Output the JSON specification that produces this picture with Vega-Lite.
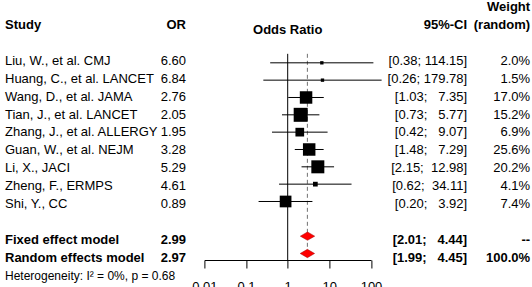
{
  "$schema": "https://vega.github.io/schema/vega-lite/v6.json",
  "padding": {"left": 5, "top": 0, "right": 0, "bottom": 0},
  "background": "white",
  "spacing": 17.7,
  "bounds": "flush",
  "config": {
    "view": {"stroke": null},
    "font": "Liberation Sans",
    "text": {"font": "Liberation Sans", "fontSize": 13, "color": "black"}
  },
  "datasets": {
    "studies": [
      {"key": "Liu", "study": "Liu, W., et al. CMJ", "or": 6.60, "lo": 0.38, "hi": 114.15, "ci": "[0.38; 114.15]", "wr": "2.0%", "wmh": 1.2},
      {"key": "Huang", "study": "Huang, C., et al. LANCET", "or": 6.84, "lo": 0.26, "hi": 179.78, "ci": "[0.26; 179.78]", "wr": "1.5%", "wmh": 1.2},
      {"key": "Wang", "study": "Wang, D., et al. JAMA", "or": 2.76, "lo": 1.03, "hi": 7.35, "ci": "[1.03;\u00a0\u00a0\u00a07.35]", "wr": "17.0%", "wmh": 16.7},
      {"key": "Tian", "study": "Tian, J., et al. LANCET", "or": 2.05, "lo": 0.73, "hi": 5.77, "ci": "[0.73;\u00a0\u00a0\u00a05.77]", "wr": "15.2%", "wmh": 21.0},
      {"key": "Zhang", "study": "Zhang, J., et al. ALLERGY", "or": 1.95, "lo": 0.42, "hi": 9.07, "ci": "[0.42;\u00a0\u00a0\u00a09.07]", "wr": "6.9%", "wmh": 8.1},
      {"key": "Guan", "study": "Guan, W., et al. NEJM", "or": 3.28, "lo": 1.48, "hi": 7.29, "ci": "[1.48;\u00a0\u00a0\u00a07.29]", "wr": "25.6%", "wmh": 16.7},
      {"key": "Li", "study": "Li, X., JACI", "or": 5.29, "lo": 2.15, "hi": 12.98, "ci": "[2.15;\u00a0\u00a012.98]", "wr": "20.2%", "wmh": 18.1},
      {"key": "Zheng", "study": "Zheng, F., ERMPS", "or": 4.61, "lo": 0.62, "hi": 34.11, "ci": "[0.62;\u00a0\u00a034.11]", "wr": "4.1%", "wmh": 2.4},
      {"key": "Shi", "study": "Shi, Y., CC", "or": 0.89, "lo": 0.20, "hi": 3.92, "ci": "[0.20;\u00a0\u00a0\u00a03.92]", "wr": "7.4%", "wmh": 14.7}
    ],
    "pooled": [
      {"key": "Fixed", "label": "Fixed effect model", "est": 2.99, "lo": 2.01, "hi": 4.44, "ci": "[2.01;\u00a0\u00a0\u00a04.44]", "wr": "--"},
      {"key": "Random", "label": "Random effects model", "est": 2.97, "lo": 1.99, "hi": 4.45, "ci": "[1.99;\u00a0\u00a0\u00a04.45]", "wr": "100.0%"}
    ],
    "nullLine": [{"or": 1, "from": "Liu", "to": "Random"}],
    "randomLine": [{"or": 2.97, "from": "Liu", "to": "Random"}]
  },
  "hconcat": [
    {
      "width": 100, "height": 287,
      "layer": [
        {"data": {"values": [{"key": "header"}]}, "mark": {"type": "text", "text": "Study", "fontWeight": "bold", "align": "left", "dy": 1.5},
         "encoding": {"x": {"value": 0}, "y": {"field": "key", "type": "nominal", "axis": null, "scale": {"type": "point", "domain": ["header","b1","Liu","Huang","Wang","Tian","Zhang","Guan","Li","Zheng","Shi","b2","Fixed","Random","Het"], "padding": 1.501, "align": 0.65}}}},
        {"data": {"name": "studies"}, "mark": {"type": "text", "align": "left", "dy": 1.5},
         "encoding": {"x": {"value": 0}, "y": {"field": "key", "type": "nominal", "axis": null, "scale": {"type": "point", "domain": ["header","b1","Liu","Huang","Wang","Tian","Zhang","Guan","Li","Zheng","Shi","b2","Fixed","Random","Het"], "padding": 1.501, "align": 0.65}}, "text": {"field": "study"}}},
        {"data": {"name": "pooled"}, "mark": {"type": "text", "align": "left", "fontWeight": "bold", "dy": 1.5},
         "encoding": {"x": {"value": 0}, "y": {"field": "key", "type": "nominal", "axis": null, "scale": {"type": "point", "domain": ["header","b1","Liu","Huang","Wang","Tian","Zhang","Guan","Li","Zheng","Shi","b2","Fixed","Random","Het"], "padding": 1.501, "align": 0.65}}, "text": {"field": "label"}}},
        {"data": {"values": [{"key": "Het"}]}, "mark": {"type": "text", "align": "left", "fontSize": 12, "text": "Heterogeneity: I² = 0%, p = 0.68", "dy": 1.5},
         "encoding": {"x": {"value": 0}, "y": {"field": "key", "type": "nominal", "axis": null, "scale": {"type": "point", "domain": ["header","b1","Liu","Huang","Wang","Tian","Zhang","Guan","Li","Zheng","Shi","b2","Fixed","Random","Het"], "padding": 1.501, "align": 0.65}}}}
      ]
    },
    {
      "width": 63.3, "height": 287,
      "layer": [
        {"data": {"values": [{"key": "header"}]}, "mark": {"type": "text", "text": "OR", "fontWeight": "bold", "align": "right", "dy": 1.5},
         "encoding": {"x": {"value": "width"}, "y": {"field": "key", "type": "nominal", "axis": null, "scale": {"type": "point", "domain": ["header","b1","Liu","Huang","Wang","Tian","Zhang","Guan","Li","Zheng","Shi","b2","Fixed","Random","Het"], "padding": 1.501, "align": 0.65}}}},
        {"data": {"name": "studies"}, "mark": {"type": "text", "align": "right", "dy": 1.5},
         "encoding": {"x": {"value": "width"}, "y": {"field": "key", "type": "nominal", "axis": null, "scale": {"type": "point", "domain": ["header","b1","Liu","Huang","Wang","Tian","Zhang","Guan","Li","Zheng","Shi","b2","Fixed","Random","Het"], "padding": 1.501, "align": 0.65}}, "text": {"field": "or", "type": "quantitative", "format": ".2f"}}},
        {"data": {"name": "pooled"}, "mark": {"type": "text", "align": "right", "fontWeight": "bold", "dy": 1.5},
         "encoding": {"x": {"value": "width"}, "y": {"field": "key", "type": "nominal", "axis": null, "scale": {"type": "point", "domain": ["header","b1","Liu","Huang","Wang","Tian","Zhang","Guan","Li","Zheng","Shi","b2","Fixed","Random","Het"], "padding": 1.501, "align": 0.65}}, "text": {"field": "est", "type": "quantitative", "format": ".2f"}}}
      ]
    },
    {
      "width": 166.6, "height": 260,
      "layer": [
        {"data": {"name": "nullLine"}, "mark": {"type": "rule", "color": "black", "strokeWidth": 1, "yOffset": -9, "y2Offset": 7.5},
         "encoding": {"x": {"field": "or", "type": "quantitative", "scale": {"type": "log", "domain": [0.01, 100], "nice": false, "zero": false}, "axis": {"values": [0.01, 0.1, 1, 10, 100], "format": "~g", "title": null, "grid": false, "domainColor": "black", "tickColor": "black", "labelColor": "black", "labelFont": "Liberation Sans", "labelFontSize": 13, "tickSize": 8, "labelPadding": 12, "labelFlush": false, "labelOverlap": false}},
                      "y": {"field": "from", "type": "nominal", "axis": null, "scale": {"type": "point", "domain": ["header","b1","Liu","Huang","Wang","Tian","Zhang","Guan","Li","Zheng","Shi","b2","Fixed","Random"], "padding": 1.2014, "align": 0.8121}},
                      "y2": {"field": "to"}}},
        {"data": {"name": "randomLine"}, "mark": {"type": "rule", "color": "#707070", "strokeWidth": 1, "strokeDash": [4, 3], "yOffset": -9},
         "encoding": {"x": {"field": "or", "type": "quantitative", "scale": {"type": "log", "domain": [0.01, 100], "nice": false, "zero": false}, "axis": {"values": [0.01, 0.1, 1, 10, 100], "format": "~g", "title": null, "grid": false, "domainColor": "black", "tickColor": "black", "labelColor": "black", "labelFont": "Liberation Sans", "labelFontSize": 13, "tickSize": 8, "labelPadding": 12, "labelFlush": false, "labelOverlap": false}},
                      "y": {"field": "from", "type": "nominal", "axis": null, "scale": {"type": "point", "domain": ["header","b1","Liu","Huang","Wang","Tian","Zhang","Guan","Li","Zheng","Shi","b2","Fixed","Random"], "padding": 1.2014, "align": 0.8121}},
                      "y2": {"field": "to"}}},
        {"data": {"name": "studies"}, "mark": {"type": "rule", "color": "black", "strokeWidth": 1},
         "encoding": {"x": {"field": "lo", "type": "quantitative", "scale": {"type": "log", "domain": [0.01, 100], "nice": false, "zero": false}, "axis": {"values": [0.01, 0.1, 1, 10, 100], "format": "~g", "title": null, "grid": false, "domainColor": "black", "tickColor": "black", "labelColor": "black", "labelFont": "Liberation Sans", "labelFontSize": 13, "tickSize": 8, "labelPadding": 12, "labelFlush": false, "labelOverlap": false}},
                      "x2": {"field": "hi"},
                      "y": {"field": "key", "type": "nominal", "axis": null, "scale": {"type": "point", "domain": ["header","b1","Liu","Huang","Wang","Tian","Zhang","Guan","Li","Zheng","Shi","b2","Fixed","Random"], "padding": 1.2014, "align": 0.8121}}}},
        {"data": {"name": "studies"}, "mark": {"type": "point", "shape": "square", "filled": true, "color": "black", "opacity": 1},
         "encoding": {"x": {"field": "or", "type": "quantitative", "scale": {"type": "log", "domain": [0.01, 100], "nice": false, "zero": false}, "axis": {"values": [0.01, 0.1, 1, 10, 100], "format": "~g", "title": null, "grid": false, "domainColor": "black", "tickColor": "black", "labelColor": "black", "labelFont": "Liberation Sans", "labelFontSize": 13, "tickSize": 8, "labelPadding": 12, "labelFlush": false, "labelOverlap": false}},
                      "y": {"field": "key", "type": "nominal", "axis": null, "scale": {"type": "point", "domain": ["header","b1","Liu","Huang","Wang","Tian","Zhang","Guan","Li","Zheng","Shi","b2","Fixed","Random"], "padding": 1.2014, "align": 0.8121}},
                      "size": {"field": "wmh", "type": "quantitative", "scale": {"domain": [0, 100], "range": [0, 933]}, "legend": null}}},
        {"data": {"name": "pooled"}, "mark": {"type": "point", "shape": "M -1 0 L 0 -0.58 L 1 0 L 0 0.58 Z", "filled": true, "fill": "#ff0000", "stroke": "#a00000", "strokeWidth": 0.5, "size": 207, "opacity": 1},
         "encoding": {"x": {"field": "est", "type": "quantitative", "scale": {"type": "log", "domain": [0.01, 100], "nice": false, "zero": false}, "axis": {"values": [0.01, 0.1, 1, 10, 100], "format": "~g", "title": null, "grid": false, "domainColor": "black", "tickColor": "black", "labelColor": "black", "labelFont": "Liberation Sans", "labelFontSize": 13, "tickSize": 8, "labelPadding": 12, "labelFlush": false, "labelOverlap": false}},
                      "y": {"field": "key", "type": "nominal", "axis": null, "scale": {"type": "point", "domain": ["header","b1","Liu","Huang","Wang","Tian","Zhang","Guan","Li","Zheng","Shi","b2","Fixed","Random"], "padding": 1.2014, "align": 0.8121}}}},
        {"data": {"values": [{"key": "header", "or": 1}]}, "mark": {"type": "text", "text": "Odds Ratio", "fontWeight": "bold", "align": "center", "dy": 1.5},
         "encoding": {"x": {"field": "or", "type": "quantitative", "scale": {"type": "log", "domain": [0.01, 100], "nice": false, "zero": false}, "axis": {"values": [0.01, 0.1, 1, 10, 100], "format": "~g", "title": null, "grid": false, "domainColor": "black", "tickColor": "black", "labelColor": "black", "labelFont": "Liberation Sans", "labelFontSize": 13, "tickSize": 8, "labelPadding": 12, "labelFlush": false, "labelOverlap": false}},
                      "y": {"field": "key", "type": "nominal", "axis": null, "scale": {"type": "point", "domain": ["header","b1","Liu","Huang","Wang","Tian","Zhang","Guan","Li","Zheng","Shi","b2","Fixed","Random"], "padding": 1.2014, "align": 0.8121}}}}
      ]
    },
    {
      "width": 78, "height": 287,
      "layer": [
        {"data": {"values": [{"key": "header"}]}, "mark": {"type": "text", "text": "95%-CI", "fontWeight": "bold", "align": "right", "dy": 1.5},
         "encoding": {"x": {"value": "width"}, "y": {"field": "key", "type": "nominal", "axis": null, "scale": {"type": "point", "domain": ["header","b1","Liu","Huang","Wang","Tian","Zhang","Guan","Li","Zheng","Shi","b2","Fixed","Random","Het"], "padding": 1.501, "align": 0.65}}}},
        {"data": {"name": "studies"}, "mark": {"type": "text", "align": "right", "dy": 1.5},
         "encoding": {"x": {"value": "width"}, "y": {"field": "key", "type": "nominal", "axis": null, "scale": {"type": "point", "domain": ["header","b1","Liu","Huang","Wang","Tian","Zhang","Guan","Li","Zheng","Shi","b2","Fixed","Random","Het"], "padding": 1.501, "align": 0.65}}, "text": {"field": "ci"}}},
        {"data": {"name": "pooled"}, "mark": {"type": "text", "align": "right", "fontWeight": "bold", "dy": 1.5},
         "encoding": {"x": {"value": "width"}, "y": {"field": "key", "type": "nominal", "axis": null, "scale": {"type": "point", "domain": ["header","b1","Liu","Huang","Wang","Tian","Zhang","Guan","Li","Zheng","Shi","b2","Fixed","Random","Het"], "padding": 1.501, "align": 0.65}}, "text": {"field": "ci"}}}
      ]
    },
    {
      "width": 45.3, "height": 287,
      "layer": [
        {"data": {"values": [{"key": "header"}]}, "mark": {"type": "text", "text": "(random)", "fontWeight": "bold", "align": "right", "dy": 1.5},
         "encoding": {"x": {"value": "width"}, "y": {"field": "key", "type": "nominal", "axis": null, "scale": {"type": "point", "domain": ["header","b1","Liu","Huang","Wang","Tian","Zhang","Guan","Li","Zheng","Shi","b2","Fixed","Random","Het"], "padding": 1.501, "align": 0.65}}}},
        {"data": {"values": [{"key": "header"}]}, "mark": {"type": "text", "text": "Weight", "fontWeight": "bold", "align": "right", "dy": -16.5},
         "encoding": {"x": {"value": "width"}, "y": {"field": "key", "type": "nominal", "axis": null, "scale": {"type": "point", "domain": ["header","b1","Liu","Huang","Wang","Tian","Zhang","Guan","Li","Zheng","Shi","b2","Fixed","Random","Het"], "padding": 1.501, "align": 0.65}}}},
        {"data": {"name": "studies"}, "mark": {"type": "text", "align": "right", "dy": 1.5},
         "encoding": {"x": {"value": "width"}, "y": {"field": "key", "type": "nominal", "axis": null, "scale": {"type": "point", "domain": ["header","b1","Liu","Huang","Wang","Tian","Zhang","Guan","Li","Zheng","Shi","b2","Fixed","Random","Het"], "padding": 1.501, "align": 0.65}}, "text": {"field": "wr"}}},
        {"data": {"name": "pooled"}, "mark": {"type": "text", "align": "right", "fontWeight": "bold", "dy": 1.5},
         "encoding": {"x": {"value": "width"}, "y": {"field": "key", "type": "nominal", "axis": null, "scale": {"type": "point", "domain": ["header","b1","Liu","Huang","Wang","Tian","Zhang","Guan","Li","Zheng","Shi","b2","Fixed","Random","Het"], "padding": 1.501, "align": 0.65}}, "text": {"field": "wr"}}}
      ]
    }
  ]
}
